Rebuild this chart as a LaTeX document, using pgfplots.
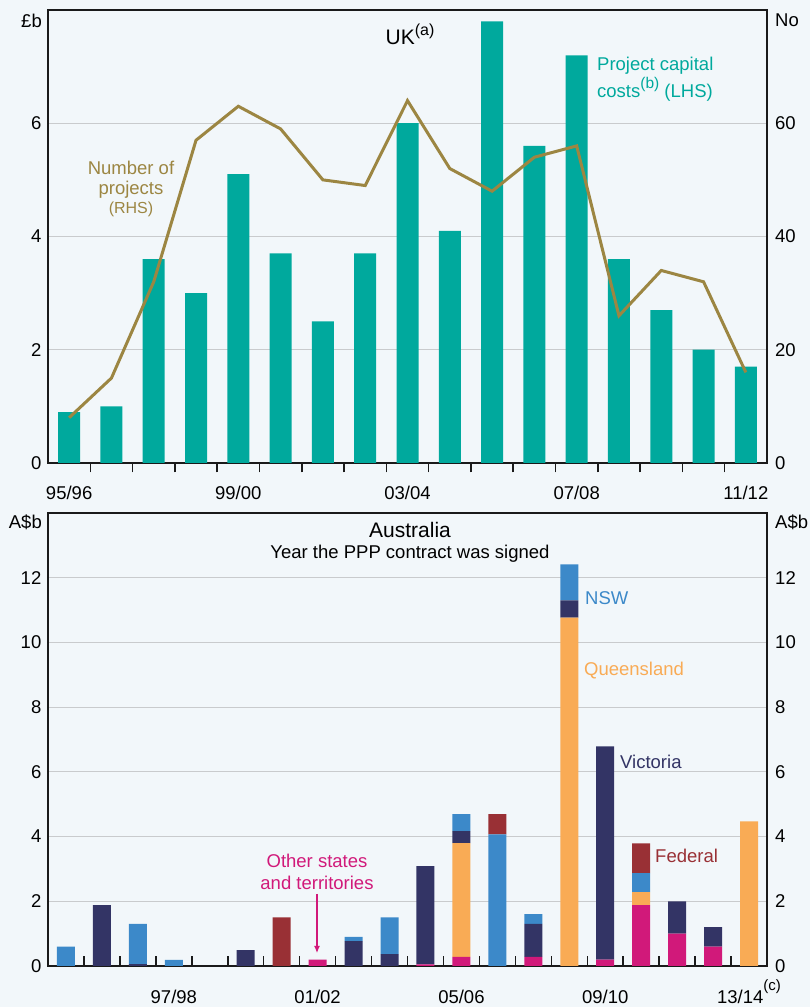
\documentclass[border=0pt]{standalone}
\usepackage{pgfplots}
\pgfplotsset{compat=1.18}
\usepackage{fontspec}
\setmainfont{Liberation Sans}
\usetikzlibrary{arrows.meta}
\definecolor{bgc}{HTML}{F2F7FA}
\definecolor{tealc}{HTML}{00A99D}
\definecolor{olivec}{HTML}{9C8642}
\definecolor{navyc}{HTML}{333465}
\definecolor{bluec}{HTML}{3C89C9}
\definecolor{orangec}{HTML}{F9AB55}
\definecolor{pinkc}{HTML}{D1197A}
\definecolor{redc}{HTML}{993035}
\definecolor{gridc}{HTML}{C9CBCD}
\definecolor{axc}{HTML}{1A1A1A}
\newcommand{\tf}{\fontsize{18.5}{21}\selectfont}
\newcommand{\tfb}{\fontsize{21}{24}\selectfont}
\newcommand{\tfs}{\fontsize{16}{18}\selectfont}
\newcommand{\supx}[3]{\raisebox{#1}{\fontsize{#2}{#2}\selectfont #3}}

\pgfplotsset{
  panel/.style={
    scale only axis, width=719pt, height=453pt,
    xmin=0.5,
    axis line style={line width=1.5pt, draw=axc},
    major tick length=0pt,
    minor tick length=9.5pt,
    tick align=inside,
    xtick pos=bottom,
    ytick pos=left,
    minor tick style={line width=1.5pt, draw=axc},
    tick label style={font=\tf, text=black},
    /pgf/number format/assume math mode=true,
    xticklabel style={anchor=base, yshift=-37pt},
    yticklabel style={inner sep=0pt, xshift=-6.5pt},
    ymajorgrids,
    grid style={line width=1.2pt, draw=gridc},
    clip=false,
  },
  rightpanel/.style={
    scale only axis, width=719pt, height=453pt, xmin=0.5,
    hide x axis, axis y line*=right,
    axis line style={line width=1.5pt, draw=axc},
    major tick length=0pt,
    tick label style={font=\tf, text=black},
    /pgf/number format/assume math mode=true,
    yticklabel style={anchor=west, inner sep=0pt, xshift=8pt},
    clip=false,
  }
}

\begin{document}
\begin{tikzpicture}
\path[use as bounding box, fill=bgc] (0,0) rectangle (810pt,1007pt);

% ---------------- UK panel ----------------
\begin{axis}[panel, at={(48pt,544pt)}, anchor=south west,
  xmax=17.5, ymin=0, ymax=8, ytick={0,2,4,6},
  xtick={1,5,9,13,17}, xticklabels={95/96,99/00,03/04,07/08,11/12},
  minor xtick={1.5,2.5,...,16.5},
  ybar, bar width=22pt]
\addplot[fill=tealc, draw=none] coordinates {
(1,0.9) (2,1.0) (3,3.6) (4,3.0) (5,5.1) (6,3.7) (7,2.5) (8,3.7) (9,6.0)
(10,4.1) (11,7.8) (12,5.6) (13,7.2) (14,3.6) (15,2.7) (16,2.0) (17,1.7)};
\end{axis}
\begin{axis}[rightpanel, at={(48pt,544pt)}, anchor=south west,
  xmax=17.5, ymin=0, ymax=80, ytick={0,20,40,60}]
\addplot[olivec, line width=3pt, mark=none] coordinates {
(1,8) (2,15) (3,32) (4,57) (5,63) (6,59) (7,50) (8,49) (9,64)
(10,52) (11,48) (12,54) (13,56) (14,26) (15,34) (16,32) (17,16)};
\end{axis}

% ---------------- Australia panel ----------------
\begin{axis}[panel, at={(48pt,41pt)}, anchor=south west,
  xmax=20.5, ymin=0, ymax=14, ytick={0,2,...,12},
  xtick={4,8,12,16,20},
  xticklabels={97/98,01/02,05/06,09/10,13/14\supx{12.5pt}{15}{(c)}},
  minor xtick={1.5,2.5,...,19.5},
  ybar stacked, bar width=18pt]
% Other states and territories
\addplot[fill=pinkc, draw=none] coordinates {
(1,0) (2,0) (3,0) (4,0) (5,0) (6,0) (7,0) (8,0.2) (9,0) (10,0)
(11,0.05) (12,0.28) (13,0) (14,0.28) (15,0) (16,0.2) (17,1.88) (18,1.0) (19,0.6) (20,0)};
% Queensland
\addplot[fill=orangec, draw=none] coordinates {
(1,0) (2,0) (3,0) (4,0) (5,0) (6,0) (7,0) (8,0) (9,0) (10,0)
(11,0) (12,3.52) (13,0) (14,0) (15,10.77) (16,0) (17,0.4) (18,0) (19,0) (20,4.47)};
% Victoria
\addplot[fill=navyc, draw=none] coordinates {
(1,0) (2,1.88) (3,0.06) (4,0) (5,0) (6,0.49) (7,0) (8,0) (9,0.77) (10,0.37)
(11,3.04) (12,0.37) (13,0) (14,1.02) (15,0.53) (16,6.59) (17,0) (18,1.0) (19,0.6) (20,0)};
% NSW
\addplot[fill=bluec, draw=none] coordinates {
(1,0.6) (2,0) (3,1.24) (4,0.19) (5,0) (6,0) (7,0) (8,0) (9,0.13) (10,1.13)
(11,0) (12,0.52) (13,4.07) (14,0.3) (15,1.11) (16,0) (17,0.59) (18,0) (19,0) (20,0)};
% Federal
\addplot[fill=redc, draw=none] coordinates {
(1,0) (2,0) (3,0) (4,0) (5,0) (6,0) (7,1.5) (8,0) (9,0) (10,0)
(11,0) (12,0) (13,0.62) (14,0) (15,0) (16,0) (17,0.92) (18,0) (19,0) (20,0)};
\end{axis}
\begin{axis}[rightpanel, at={(48pt,41pt)}, anchor=south west,
  xmax=20.5, ymin=0, ymax=14, ytick={0,2,...,12}]
\end{axis}

% ---------------- texts ----------------
\begin{scope}[every node/.style={inner sep=0pt, font=\tf}]
\node[anchor=base east] at (42pt,979pt) {£b};
\node[anchor=base west] at (775pt,980pt) {No};
\node[anchor=base, font=\tfb] at (410pt,962pt) {UK\supx{9.5pt}{16}{(a)}};
\node[anchor=base west, text=tealc] at (597pt,936pt) {Project capital};
\node[anchor=base west, text=tealc] at (597pt,909pt) {costs\supx{9pt}{15.5}{(b)} (LHS)};
\node[anchor=base, text=olivec] at (131pt,832pt) {Number of};
\node[anchor=base, text=olivec] at (131pt,812.5pt) {projects};
\node[anchor=base, text=olivec, font=\tfs] at (131pt,793.5pt) {(RHS)};

\node[anchor=base east] at (42pt,478pt) {A\$b};
\node[anchor=base west] at (775pt,478pt) {A\$b};
\node[anchor=base, font=\tfb] at (410pt,469pt) {Australia};
\node[anchor=base] at (410pt,448pt) {Year the PPP contract was signed};
\node[anchor=base west, text=bluec] at (585pt,402pt) {NSW};
\node[anchor=base west, text=orangec] at (584pt,331pt) {Queensland};
\node[anchor=base west, text=navyc] at (620pt,238pt) {Victoria};
\node[anchor=base west, text=redc] at (655pt,144pt) {Federal};
\node[anchor=base, text=pinkc] at (317pt,139pt) {Other states};
\node[anchor=base, text=pinkc] at (317pt,117pt) {and territories};
\draw[pinkc, line width=1.2pt, -{Latex[length=7pt,width=6pt]}] (317pt,113pt) -- (317pt,54pt);
\end{scope}
\end{tikzpicture}
\end{document}
